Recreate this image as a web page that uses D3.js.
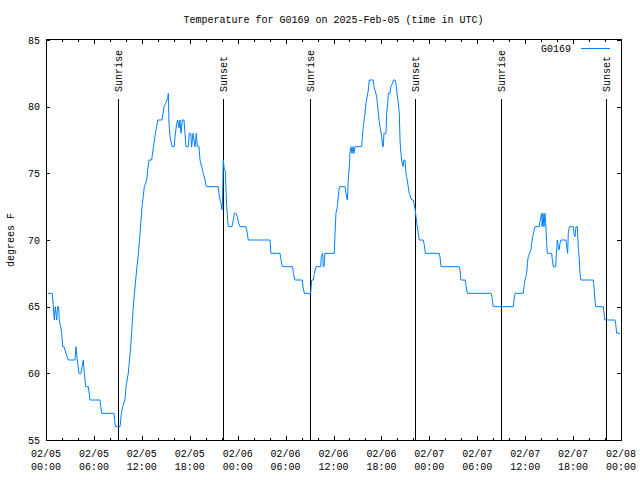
<!DOCTYPE html>
<html><head><meta charset="utf-8">
<script src="https://cdn.jsdelivr.net/npm/d3@7"></script>
<style>
body{margin:0;background:#fff}
svg{display:block}
text{font-family:"Liberation Mono","DejaVu Sans Mono",monospace;font-size:10px;fill:#000}
</style>
</head><body>
<svg id="chart" width="640" height="480"></svg>
<script>
// ---- data ----
const title = "Temperature for G0169 on 2025-Feb-05 (time in UTC)";
const seriesName = "G0169";
const yLabel = "degrees F";
// hours since 2025-02-05 00:00 UTC
const hours = [0.25,0.79,0.91,1.04,1.16,1.34,1.46,1.59,1.66,1.84,1.97,2.09,2.25,2.50,2.79,3.63,3.76,3.92,4.13,4.38,4.67,4.80,4.97,5.30,5.51,6.76,6.97,8.51,8.68,9.27,9.43,9.60,9.89,10.02,10.30,10.61,10.77,10.93,11.23,11.39,11.58,11.77,11.90,12.02,12.18,12.31,12.61,12.73,12.90,13.23,13.40,13.56,13.69,13.86,13.99,14.52,14.65,14.78,14.99,15.15,15.28,15.31,15.40,15.53,15.78,16.06,16.15,16.37,16.49,16.65,16.78,16.90,17.07,17.28,17.40,17.53,17.82,17.94,18.12,18.24,18.41,18.66,18.82,18.95,19.16,19.28,19.50,19.70,19.91,20.07,21.57,21.66,21.79,21.91,22.04,22.10,22.20,22.33,22.45,22.54,22.63,22.75,22.83,23.29,23.45,23.58,23.79,23.95,24.13,24.29,25.04,25.13,25.33,28.05,28.17,29.30,29.43,29.59,30.89,30.97,31.18,32.09,32.18,32.34,33.14,33.27,33.47,33.60,33.81,34.40,34.47,34.65,34.72,34.81,34.93,36.10,36.19,36.31,36.48,36.60,36.73,37.44,37.56,37.73,37.85,37.98,38.06,38.19,38.32,38.44,38.57,38.69,39.53,39.61,39.73,39.94,40.07,40.36,40.48,40.98,41.07,41.41,41.48,41.70,41.82,42.04,42.16,42.23,42.32,42.57,42.66,42.79,42.86,43.07,43.16,43.41,43.49,43.70,43.82,43.95,44.07,44.24,44.33,44.41,44.54,44.70,44.83,44.95,45.08,45.16,45.36,45.49,45.79,45.99,46.08,46.24,46.33,46.49,46.62,46.74,47.24,47.33,47.46,47.49,49.25,49.33,49.46,51.75,51.84,51.96,52.50,52.59,52.75,55.72,55.84,56.01,58.51,58.60,58.73,59.76,59.85,59.97,60.10,60.23,60.27,60.39,60.54,60.73,60.82,60.94,61.14,61.23,61.77,61.85,61.98,62.07,62.14,62.23,62.36,62.48,62.57,62.70,62.77,63.32,63.40,63.52,63.82,63.90,63.99,64.02,64.15,64.24,64.36,64.49,65.11,65.20,65.32,65.40,65.53,66.03,66.11,66.24,66.36,66.53,66.65,66.78,66.86,66.99,68.53,68.62,68.74,68.83,69.78,69.87,69.99,71.24,71.33,71.46,71.87];
const temps = [66,66,65,64,65,64,65,65,64,63.5,63,62,62,61.5,61,61,62,61,60,60,61,60,59,59,58,58,57,57,56,56,57,57.5,58,59,60,62,63.5,65,67,68,69,70.5,71.5,72.5,73.25,74,74.5,75.25,76,76,76.75,77.4,78,78.5,79,79,79.5,80,80.25,80.5,80.75,81,78.75,77.75,77,77,77.75,78.75,79,78.4,79,78,79,79,78,77,77,78,78,77,78,77,78,77,77,76,75.5,75,74.5,74,74,73.5,73,72.8,72.25,73,76,75.25,75.2,73.75,72.5,71.5,71,71,71.5,72,72,71.75,71.25,71,71,70.75,70,70,69,69,68.5,68,68,67.5,67,67,66.5,66,66,67,67,67.5,68,68,68.75,69,68,68,69,69,70.5,72,72.5,73.25,74,74,73.5,73,74.5,75.5,76.5,77,76.5,77,76.5,77,77,77.75,78.5,79.5,80.25,81.25,82,82,81.5,80.75,80.3,79,78.5,77.75,77,77,78,78,79.5,80.25,81,81,81.5,81.75,82,82,81.75,81,80.5,79.5,77.5,76.75,76,75.5,76,76,75,74.75,74,73.5,73,73,72.75,72.25,71.75,71,70.5,70,70,69.75,69.25,69,69,68.75,68,68,67.75,67,67,66.6,66,66,65.75,65,65,65.5,66,66,66.5,67,67.25,67.75,68.25,68.75,69,69.25,69.75,70.25,70.75,71,71,71.4,71.75,72,71,72,71,72,71.25,69.75,69,69,68.5,68,68,69,69.5,70,69.5,69.25,69.75,70,70,69.5,69,70.5,71,71,70.5,70.25,71,71,69.5,68.5,67.5,67,67,66.5,65.5,65,65,64.5,64,64,63.75,63,63];
const eventHours = [9.03, 22.2, 33.0, 46.2, 57.0, 70.17];
const eventLabels = ["Sunrise","Sunset","Sunrise","Sunset","Sunrise","Sunset"];
const yTicks = [55,60,65,70,75,80,85];
const xMajorHours = [0,6,12,18,24,30,36,42,48,54,60,66,72];
const xMinorHours = d3.range(0,73,2).filter(h => h % 6 !== 0);

// ---- chart ----
const t0 = Date.UTC(2025,1,5,0,0);
const toDate = h => new Date(t0 + h*3600000);
const svg = d3.select("#chart");
const L = 46, R = 621, T = 40, B = 440;
const x = d3.scaleUtc().domain([toDate(0), toDate(72)]).range([L, R]);
const y = d3.scaleLinear().domain([55,85]).range([B, T]);
const blue = "#0080ff";

// title
svg.append("text").attr("x", (L+R)/2).attr("y", 23).attr("text-anchor","middle").text(title);
// y label
svg.append("text").attr("transform","translate(14,240) rotate(-90)").attr("text-anchor","middle").text(yLabel);

const ax = svg.append("g").attr("shape-rendering","crispEdges");
// bottom major / minor ticks
ax.append("g").attr("transform",`translate(0,${B})`)
  .call(d3.axisBottom(x).tickValues(xMajorHours.map(toDate)).tickSizeInner(-4).tickSizeOuter(0).tickFormat(""))
  .call(g => g.select(".domain").remove());
ax.append("g").attr("transform",`translate(0,${B})`)
  .call(d3.axisBottom(x).tickValues(xMinorHours.map(toDate)).tickSizeInner(-2).tickSizeOuter(0).tickFormat(""))
  .call(g => g.select(".domain").remove());
// top mirror ticks
ax.append("g").attr("transform",`translate(0,${T})`)
  .call(d3.axisTop(x).tickValues(xMajorHours.map(toDate)).tickSizeInner(-4).tickSizeOuter(0).tickFormat(""))
  .call(g => g.select(".domain").remove());
ax.append("g").attr("transform",`translate(0,${T})`)
  .call(d3.axisTop(x).tickValues(xMinorHours.map(toDate)).tickSizeInner(-2).tickSizeOuter(0).tickFormat(""))
  .call(g => g.select(".domain").remove());
// left / right ticks
ax.append("g").attr("transform",`translate(${L},0)`)
  .call(d3.axisLeft(y).tickValues(yTicks).tickSizeInner(-4).tickSizeOuter(0).tickFormat(""))
  .call(g => g.select(".domain").remove());
ax.append("g").attr("transform",`translate(${R},0)`)
  .call(d3.axisRight(y).tickValues(yTicks).tickSizeInner(-4).tickSizeOuter(0).tickFormat(""))
  .call(g => g.select(".domain").remove());
ax.selectAll(".tick line").attr("stroke","#000");

// y tick labels
svg.append("g").selectAll("text").data(yTicks).join("text")
  .attr("x", L-6).attr("y", d => y(d)).attr("dy","0.35em").attr("text-anchor","end").text(d => d);
// x tick labels (two lines)
const fmtD = d3.utcFormat("%m/%d"), fmtT = d3.utcFormat("%H:%M");
const xl = svg.append("g").selectAll("g").data(xMajorHours.map(toDate)).join("g")
  .attr("transform", d => `translate(${x(d)},0)`);
xl.append("text").attr("y", 457).attr("text-anchor","middle").text(fmtD);
xl.append("text").attr("y", 470).attr("text-anchor","middle").text(fmtT);

// sunrise / sunset lines
const ev = svg.append("g").selectAll("g").data(eventHours.map((h,i)=>({h, label:eventLabels[i]}))).join("g")
  .attr("transform", d => `translate(${Math.round(x(toDate(d.h)))},0)`);
ev.append("line").attr("x1",0.5).attr("x2",0.5).attr("y1",99).attr("y2",B)
  .attr("stroke","#000").attr("shape-rendering","crispEdges");
ev.append("text").attr("transform","translate(4,92) rotate(-90)").attr("text-anchor","start").text(d => d.label);

// data line
const pts = hours.map((h,i) => [toDate(h), temps[i]]);
svg.append("path").datum(pts)
  .attr("fill","none").attr("stroke",blue).attr("stroke-width",1)
  .attr("d", d3.line().x(d => x(d[0])).y(d => y(d[1])));

// frame
svg.append("rect").attr("x",L+0.5).attr("y",T-0.5).attr("width",R-L).attr("height",B-T+1)
  .attr("fill","none").attr("stroke","#000").attr("shape-rendering","crispEdges");

// legend
svg.append("text").attr("x",571).attr("y",52).attr("text-anchor","end").text(seriesName);
svg.append("line").attr("x1",581).attr("x2",610).attr("y1",48.5).attr("y2",48.5)
  .attr("stroke",blue).attr("stroke-width",1).attr("shape-rendering","crispEdges");
</script>
</body></html>
